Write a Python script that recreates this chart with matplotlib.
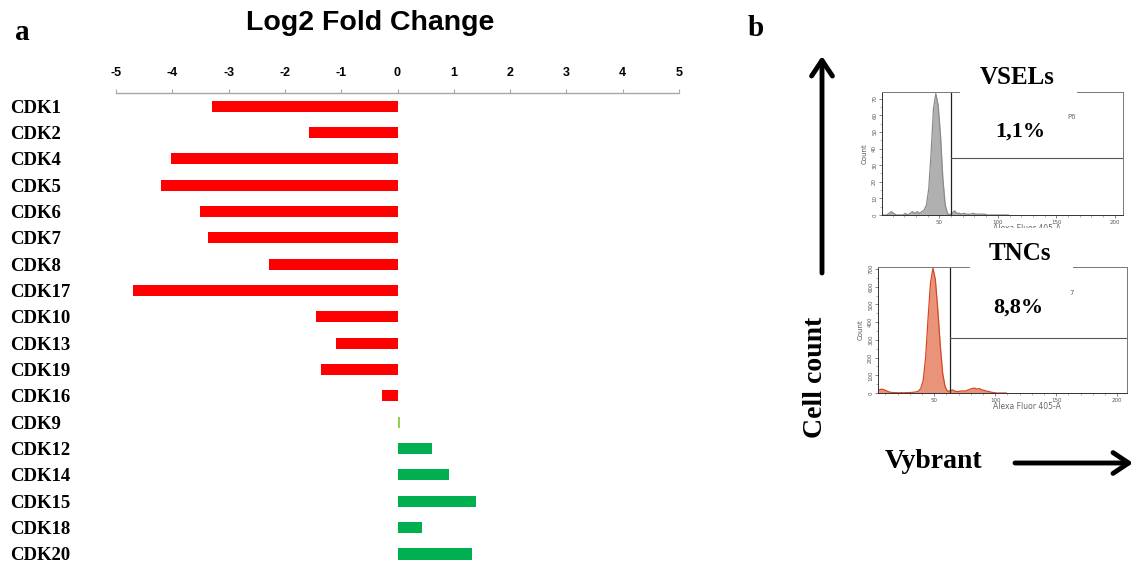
import numpy as np
import matplotlib.pyplot as plt
from matplotlib.patches import Rectangle

# Panel a: log2 fold change of CDK genes
genes = ['CDK1', 'CDK2', 'CDK4', 'CDK5', 'CDK6', 'CDK7', 'CDK8', 'CDK17', 'CDK10',
         'CDK13', 'CDK19', 'CDK16', 'CDK9', 'CDK12', 'CDK14', 'CDK15', 'CDK18', 'CDK20']
log2fc = [-3.29, -1.57, -4.03, -4.20, -3.50, -3.36, -2.29, -4.70, -1.44,
          -1.09, -1.36, -0.28, 0.04, 0.62, 0.92, 1.40, 0.43, 1.33]
fc_ticks = [-5, -4, -3, -2, -1, 0, 1, 2, 3, 4, 5]

# Panel b: Vybrant histograms, counts per 2-unit bin from 0 to 110
bin_edges = np.arange(0, 112, 2)
vsel_counts = [0, 0, 0, 1, 2, 1, 0, 0, 0, 0, 1, 0, 1, 2, 1, 2, 1, 2, 3, 6,
               16, 38, 64, 73, 66, 48, 22, 6, 1, 0, 1, 2.5, 1, 1, 0.5, 1, 0.5, 0.5, 0.5, 1,
               0.5, 0.5, 0.5, 0.5, 0.5, 0, 0, 0, 0, 0, 0, 0, 0, 0, 0]
tnc_counts = [0, 8, 18, 22, 18, 12, 6, 3, 2, 2, 1, 2, 1, 2, 2, 3, 4, 6, 10, 25,
              70, 200, 420, 620, 705, 640, 470, 270, 110, 35, 10, 12, 18, 10, 8, 10, 12, 10, 15, 20,
              25, 28, 22, 25, 18, 15, 10, 8, 4, 2, 0, 0, 0, 0, 0]
vsel_gate = (60, 34)
tnc_gate = (63, 311)
vsel_pct = '1,1%'
tnc_pct = '8,8%'

SERIF = 'Liberation Serif'
SANS = 'Liberation Sans'

W, H = 1135, 564
fig = plt.figure(figsize=(W / 100, H / 100), dpi=100)


def add_px_axes(left, top, right, bottom):
    return fig.add_axes([left / W, 1 - bottom / H, (right - left) / W, (bottom - top) / H])


# ---- bar chart ----
ax = add_px_axes(116, 93, 679, 564)
colors = ['#92D050' if abs(v) < 0.1 else ('#FF0000' if v < 0 else '#00B050') for v in log2fc]
ax.barh(np.arange(len(genes)), log2fc, height=0.42, color=colors)
ax.set_xlim(-5, 5)
ax.set_ylim(17.38, -0.5)
ax.xaxis.tick_top()
ax.set_xticks(fc_ticks)
ax.set_xticklabels([str(t) for t in fc_ticks], fontfamily=SANS, fontweight='bold', fontsize=9)
ax.tick_params(axis='x', direction='out', length=3, width=0.8, color='#a8a8a8', pad=7)
ax.set_yticks(np.arange(len(genes)))
ax.set_yticklabels(genes, fontfamily=SERIF, fontweight='bold', fontsize=13.5, ha='left')
ax.tick_params(axis='y', length=0, pad=76)
for side in ['left', 'right', 'bottom']:
    ax.spines[side].set_visible(False)
ax.spines['top'].set_color('#a8a8a8')
ax.spines['top'].set_linewidth(1.0)

fig.text(370 / W, 1 - 23 / H, 'Log2 Fold Change', fontfamily=SANS, fontweight='bold',
         fontsize=20.5, ha='center', va='center')


# ---- flow cytometry histograms ----
def draw_hist(box, counts, xlim, ylim, yticks, gate, fill, edge, gate_label):
    hx = add_px_axes(*box)
    centers = (bin_edges[:-1] + bin_edges[1:]) / 2
    hx.fill_between(centers, counts, color=fill, lw=0)
    hx.plot(centers, counts, color=edge, lw=0.9)
    hx.axvline(gate[0], color='#222222', lw=0.9)
    hx.plot([gate[0], xlim[1]], [gate[1], gate[1]], color='#555555', lw=0.8)
    hx.set_xlim(*xlim)
    hx.set_ylim(*ylim)
    hx.set_xticks([50, 100, 150, 200])
    hx.set_xticks(np.arange(10, 210, 10), minor=True)
    hx.set_yticks(yticks)
    hx.set_yticks(np.array(yticks[:-1]) + (yticks[1] - yticks[0]) / 2, minor=True)
    hx.tick_params(labelsize=4, colors='#555555', length=2.5, width=0.5, pad=1)
    hx.tick_params(which='minor', length=1.5, width=0.4, colors='#777777')
    for lab in hx.get_yticklabels():
        lab.set_rotation(90)
        lab.set_va('center')
    hx.set_ylabel('Count', fontsize=5, color='#555555', labelpad=3)
    hx.set_xlabel('Alexa Fluor 405-A', fontsize=5.5, color='#666666')
    hx.xaxis.set_label_coords(0.6, -0.07)
    for side in ['top', 'right']:
        hx.spines[side].set_color('#777777')
        hx.spines[side].set_linewidth(0.7)
    for side in ['left', 'bottom']:
        hx.spines[side].set_color('#333333')
        hx.spines[side].set_linewidth(0.7)
    hx.text(0.77, 0.78, gate_label, transform=hx.transAxes, fontsize=5, color='#666666')
    return hx


draw_hist((882, 92, 1123, 215), vsel_counts, (1, 207), (0, 74),
          [0, 10, 20, 30, 40, 50, 60, 70], vsel_gate, '#b0b0b0', '#8a8a8a', 'P6')
draw_hist((878, 267, 1127, 393), tnc_counts, (4, 208), (0, 711),
          [0, 100, 200, 300, 400, 500, 600, 700], tnc_gate, '#e8937a', '#d6481f', '7')

# ---- overlay with panel letters, arrows and labels ----
ov = fig.add_axes([0, 0, 1, 1], zorder=10)
ov.set_xlim(0, W)
ov.set_ylim(H, 0)
ov.axis('off')
ov.patch.set_alpha(0)

ov.add_patch(Rectangle((960, 55), 117, 40, color='white', lw=0))
ov.add_patch(Rectangle((970, 228), 103, 42, color='white', lw=0))

bold_serif = dict(fontfamily=SERIF, fontweight='bold', ha='center', va='center')
ov.text(22, 33, 'a', fontsize=21, **bold_serif)
ov.text(756, 29, 'b', fontsize=21, **bold_serif)
ov.text(1017, 78, 'VSELs', fontsize=18, **bold_serif)
ov.text(1020, 254, 'TNCs', fontsize=18, **bold_serif)
ov.text(1020, 132, vsel_pct, fontsize=16, **bold_serif)
ov.text(1018, 308, tnc_pct, fontsize=16, **bold_serif)
ov.text(815, 377, 'Cell count', fontsize=20, rotation=90, **bold_serif)
ov.text(934, 462, 'Vybrant', fontsize=20, **bold_serif)

arrow = dict(arrowstyle='->,head_length=0.45,head_width=0.3', lw=3.5, color='black',
             mutation_scale=25, shrinkA=0, shrinkB=0)
ov.annotate('', xy=(822, 56), xytext=(822, 273), arrowprops=arrow)
ov.annotate('', xy=(1133, 463), xytext=(1015, 463), arrowprops=arrow)

fig.savefig('out.png', dpi=100)
